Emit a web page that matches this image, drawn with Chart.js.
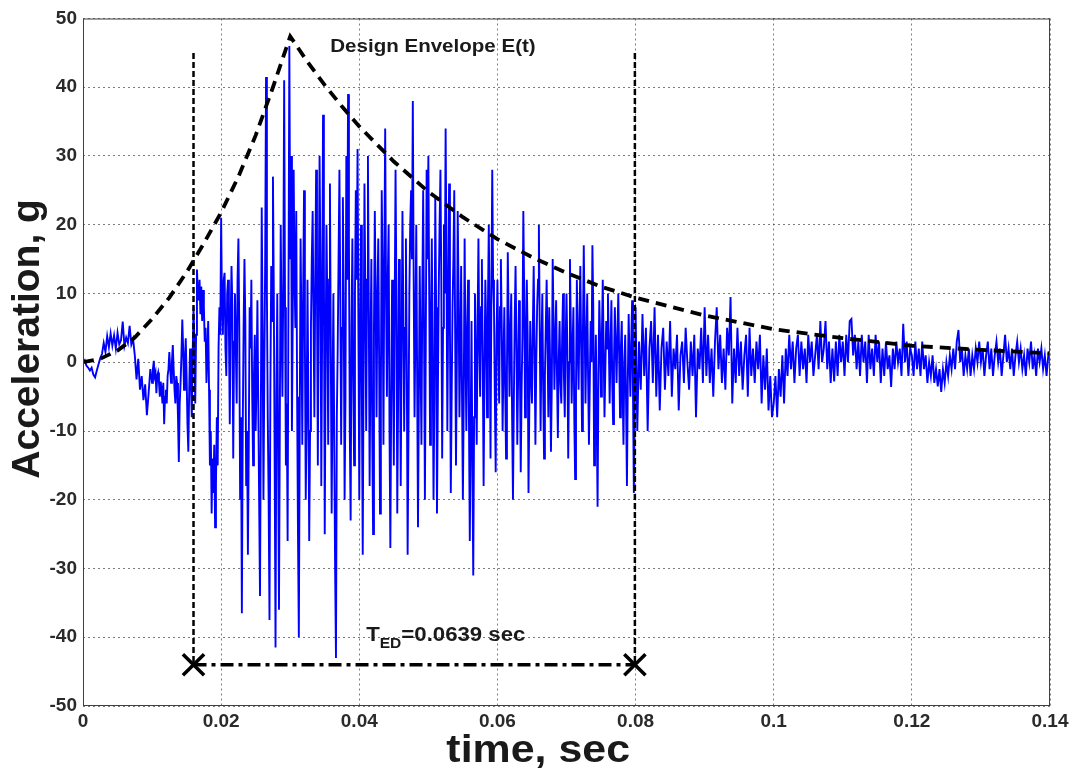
<!DOCTYPE html>
<html>
<head>
<meta charset="utf-8">
<title>Design Envelope E(t)</title>
<script src="https://cdn.jsdelivr.net/npm/chart.js@4.4.1/dist/chart.umd.min.js"></script>
<style>
  html, body { margin: 0; padding: 0; background: #fff; }
</style>
</head>
<body>
<canvas id="accChart" width="1082" height="775"></canvas>
<script>
// Acceleration record (g) in 10 ms windows.
// Quiet windows: one value every 0.25 ms, strong-motion windows: every 0.125 ms
const acc_000_010 = [0, 0.3, -0.5, -0.8, -1.2, -0.8, -1.8, -2.2, -1.2, -0.3,
  0.6, 1.2, 2.8, 1.5, 3.8, 2.2, 4.2, 2.4, 3.9, 2.0,
  4.3, 2.6, 3.2, 5.9, 2.4, 3.6, 2.8, 5.3, 2.6, 3.4,
  1.0, -2.5, 0.5, -4.0, -2.0, -5.5, -3.2, -7.7, -4.5, -1.0];
const acc_010_020 = [-3, -1, 0.2, -2, -1.5, -4.5, -2, -1.5, -3, -5,
  -2.8, -4, -6, -3, -9, -5, -4, -6, -2, -1,
  1.5, -1, -3, 0, 2.5, -1, -4, -6, -2, -3,
  -8, -14.5, -6, -3, 1, 6.2, 2, -4, 0, 3.5,
  -2, -9, -13, -4, 2, -3, -8, 1, 8, 3,
  -6, 4, 13.5, 10, 9, 12, 7, 11, 6, 10.5,
  8, 3, 5, -3, 1, 6, -4, -15, -10, -22,
  -14, -19, -12, -24, -18, -8, -15, 2, 8, 4];
const acc_020_030 = [21, 8, 4, 12, 13, 2, -2, 10, 12, 5,
  -9, 6, 14, 8, -14, 3, 10, 2, -6, 12,
  18, 5, -20, -8, -36.5, -10, 5, 15, 6, -18,
  -10, -28, -12, 8, 2, 12, -5, -15, -2, 4,
  -10, -3, 9, -6, -20, -34, -8, 22.5, 5, -20,
  -2, 15, 41.5, 10, -8, -20, -37.5, -5, 14, 6,
  27, 10, -15, -41.5, -5, 10, -12, -36, -8, 20,
  5, -5, 12, 41, 8, -15, -6, -26, 10, 46];
const acc_030_040 = [15, 30, -10, 8, 28, 12, 5, 22, -5, -25,
  -40, -10, 18, 5, -12, 10, 25, 3, -20, -8,
  12, -5, -26, -10, 5, 15, 22, 6, -8, 12,
  28, 10, -15, 8, 30, 14, -18, 5, 36, 15,
  -25, 0, 20, 8, -12, 12, 26, 2, -22, -5,
  10, -12, -30, -43, -8, 2, 15, 28, 10, -12,
  5, 24, 8, -20, -5, 30, 12, 39, 18, -10,
  -23, 5, 18, -2, -15, 10, 25, 12, 31, 5];
const acc_040_050 = [-20, 5, 20, -5, -28, 0, 26, 10, -10, 12,
  30, 8, -18, 2, 15, -10, -25, 5, 22, 8,
  -8, 10, 18, 0, -22, -5, 25, 12, -12, 15,
  34, 10, -5, 12, 20, -10, -27, -5, 12, 0,
  -15, 8, 28, 10, -22, -5, 15, 5, -18, 2,
  22, 8, -10, 5, 18, 0, -28, -10, 10, 20,
  25, 15, 38, 12, -8, 5, 20, -2, -24, -5,
  14, 0, -12, 10, 25, 5, -20, 2, 28, 15];
const acc_050_060 = [30, 10, -12, 5, 18, 0, -20, -5, 24, 8,
  -22, -5, 10, 20, 28, 12, -14, 5, 20, 10,
  34, 15, -10, 8, 26, 5, -19, -5, 8, 15,
  25, 5, -15, 0, 22, 10, -8, 2, 14, -5,
  -20, -5, 18, 2, -10, 5, 12, -8, -26, -10,
  6, -15, -31, -8, 10, 0, -12, 5, 18, 2,
  -5, 8, 15, 0, -18, -2, 12, 5, -8, 8,
  20, 5, -14, 10, 28, 12, 8, -5, -16, 4];
const acc_060_070 = [12, 2, -6, 8, 15, 5, -10, 0, 8, -4,
  -14, -2, 16, 6, -5, 4, 10, -8, -20, -6,
  6, 14, 3, -12, -2, 9, 0, -16, -4, 4,
  22, 10, -8, 2, 12, 4, -19, -6, 6, -2,
  -6, 5, 14, 2, -12, 0, 8, 12, 20, 5,
  -10, 2, 10, -4, -14, -2, 5, 12, 3, -8,
  8, 0, -13, -3, 15, 6, -4, 3, 9, -2,
  -11, 0, 6, -3, -6, 4, 10, -2, -8, 3];
const acc_070_080 = [10, 2, -14, 0, 15, 5, -6, 2, 8, -8,
  -17, -4, 12, 3, -4, 6, 14, 2, -10, 4,
  17, 6, -6, 3, 10, -2, -12, -3, 6, 0,
  17, 8, -15, -4, 4, -8, -21, -2, 9, 3,
  -5, 4, 12, 2, -8, -1, 6, 2, 10, 3,
  -6, 2, 9, -3, -9, 0, 8, 2, -3, 4,
  10, 1, -8, 2, 6, -4, -12, 0, 4, -6,
  -18, -3, 7, 0, -5, 3, 9, -4, -19, -6];
const acc_080_090 = [8, -10, 3, -4, 7, -2, 5, -10, 2, 6,
  -3, 8, -5, 4, -7, 2, 5, -4, 3, -2,
  6, -5, 2, -1, 4, -7, 1, 3, -3, 5,
  0, -4, 3, -2, 4, -8, 2, -1, 5, -3];
const acc_090_100 = [8, -2, 4, -3, 2, -5, 3, 8, -1, 4,
  -3, 2, -4, 5, 1, 9.5, -6, 2, -3, 5,
  -2, 3, -4, 1, 4, -5, 5, -2, 2, -3,
  3, -1, 4, -6, 1, -4, 2, -7, -2, -8];
const acc_100_110 = [-6, -2, -8, -1, -5, 1, -6, 2, -2, 4,
  -1, 3, -3, 2, 4, -2, 3, -1, 2, -3,
  4, 0, 3, -2, 1, 4, -1, 6, 0, 2,
  6, -1, 3, -3, 2, -2.8, 3, -2, 4, 0];
const acc_110_120 = [3, -2, 4, 0, 6, 6.3, 1, 4, -1, 3,
  -2, 4, 0, 3, -3, 4, -1, 2, -2, 4,
  0, 3, -3, 2, -2, 3, -1, 1, -3.6, 2,
  -1, 3, 0, 2, -2, 5.6, 0, 3, -2, 2];
const acc_120_130 = [1, -2, 3, -1, 2, -2, 3, -1, 1, -3,
  0, -2, 1, -3, -1, -3.5, -1, -4.3, -1, -3,
  0, -2, 1, -1, 2, -1, 3, 4.7, 0, 2,
  -2, 1, -1, 2, -2, 1, -1, 2, 0, 3];
const acc_130_140 = [0, 2, -2, 1, 3, -1, 2, -2, 1, 3,
  0, 2, -2, 1, 4, 0, 2, -1, 2, -2,
  1, 3, 0, 2, -1, 1, -2, 2, 0, 3,
  -1, 1, -2, 2, 0, 2, -1, 1, -2, 1, 0.5];

// window start (s), sample step (s), values
const accWindows = [
  [0.00, 0.00025, acc_000_010], [0.01, 0.000125, acc_010_020],
  [0.02, 0.000125, acc_020_030], [0.03, 0.000125, acc_030_040],
  [0.04, 0.000125, acc_040_050], [0.05, 0.000125, acc_050_060],
  [0.06, 0.000125, acc_060_070], [0.07, 0.000125, acc_070_080],
  [0.08, 0.00025, acc_080_090], [0.09, 0.00025, acc_090_100],
  [0.10, 0.00025, acc_100_110], [0.11, 0.00025, acc_110_120],
  [0.12, 0.00025, acc_120_130], [0.13, 0.00025, acc_130_140]
];

// Design envelope E(t)
const envTime = [0, 0.0025, 0.005, 0.0075, 0.01, 0.0125, 0.015, 0.0175, 0.02, 0.0225, 0.025, 0.0275, 0.03,
  0.0325, 0.035, 0.0375, 0.04, 0.045, 0.05, 0.055, 0.06, 0.065, 0.07, 0.075, 0.08, 0.09, 0.1, 0.11, 0.12, 0.13, 0.14];
const envAcc = [0, 0.5, 1.7, 3.6, 6.3, 9.4, 13.1, 17.3, 21.8, 27.0, 33.0, 40.0, 47.4,
  43.7, 40.3, 37.2, 34.3, 29.2, 24.8, 21.1, 17.9, 15.3, 13.0, 11.0, 9.4, 6.8, 4.8, 3.5, 2.4, 1.8, 1.3];

// T_ED markers
const tedStart = 0.016;
const tedEnd = 0.0799;
const tedLevel = -44;
const guideTop = 45;

const xTicks = [0, 0.02, 0.04, 0.06, 0.08, 0.1, 0.12, 0.14];
const yTicks = [-50, -40, -30, -20, -10, 0, 10, 20, 30, 40, 50];

const signalData = [];
accWindows.forEach(([t0, dt, vals]) => {
  vals.forEach((g, i) => signalData.push({ x: t0 + i * dt, y: g }));
});
const envData = envTime.map((t, i) => ({ x: t, y: envAcc[i] }));

const tickFont = { family: '"Liberation Sans", Arial, sans-serif', size: 19, weight: 'bold' };

// draws the frame, axis titles and the two text labels
const textPlugin = {
  id: 'textPlugin',
  afterDraw(chart) {
    const { ctx, chartArea: a, scales: { x, y } } = chart;
    ctx.save();
    ctx.strokeStyle = '#404040';
    ctx.lineWidth = 1;
    ctx.setLineDash([]);
    ctx.strokeRect(a.left + 0.5, a.top + 0.5, a.right - a.left - 1, a.bottom - a.top - 1);

    ctx.fillStyle = '#1a1a1a';
    const stretch = (txt, px, py, sx, font, align) => {
      ctx.save();
      ctx.translate(px, py);
      ctx.scale(sx, 1);
      ctx.font = font;
      ctx.textAlign = align;
      ctx.textBaseline = 'alphabetic';
      ctx.fillText(txt, 0, 0);
      const w = ctx.measureText(txt).width * sx;
      ctx.restore();
      return w;
    };
    const f = (s) => 'bold ' + s + 'px "Liberation Sans", Arial, sans-serif';

    // Design Envelope E(t)
    stretch('Design Envelope E(t)', x.getPixelForValue(0.0358), y.getPixelForValue(45.2), 1.11, f(18.5), 'left');

    // T_ED=0.0639 sec
    let px = x.getPixelForValue(0.041);
    const base = y.getPixelForValue(-40.6);
    px += stretch('T', px, base, 1.11, f(20), 'left');
    px += stretch('ED', px, base + 7, 1.11, f(14), 'left');
    stretch('=0.0639 sec', px, base, 1.11, f(20), 'left');

    // axis titles
    stretch('time, sec', x.getPixelForValue(0.0659), a.bottom + 56, 1.1, f(39), 'center');
    ctx.save();
    ctx.translate(a.left - 55, y.getPixelForValue(3.4));
    ctx.rotate(-Math.PI / 2);
    ctx.font = f(39);
    ctx.textAlign = 'center';
    ctx.textBaseline = 'middle';
    ctx.fillText('Acceleration, g', 0, 0);
    ctx.restore();
    ctx.restore();
  }
};

const ctx = document.getElementById('accChart').getContext('2d');
const accChart = new Chart(ctx, {
  type: 'line',
  data: {
    datasets: [
      {
        label: 'T_ED',
        data: [{ x: tedStart, y: tedLevel }, { x: tedEnd, y: tedLevel }],
        borderColor: '#000',
        borderWidth: 3.5,
        borderDash: [13, 5, 4, 5],
        pointStyle: 'crossRot',
        pointRadius: 15,
        pointBorderWidth: 3.5,
        pointBorderColor: '#000'
      },
      {
        label: 'start',
        data: [{ x: tedStart, y: guideTop }, { x: tedStart, y: tedLevel }],
        borderColor: '#000',
        borderWidth: 2.5,
        borderDash: [6, 3],
        pointRadius: 0
      },
      {
        label: 'end',
        data: [{ x: tedEnd, y: guideTop }, { x: tedEnd, y: tedLevel }],
        borderColor: '#000',
        borderWidth: 2.5,
        borderDash: [6, 3],
        pointRadius: 0
      },
      {
        label: 'Design Envelope E(t)',
        data: envData,
        borderColor: '#000',
        borderWidth: 3.8,
        borderDash: [11, 7],
        pointRadius: 0
      },
      {
        label: 'Acceleration',
        data: signalData,
        borderColor: 'rgb(0,0,255)',
        borderWidth: 1.9,
        pointRadius: 0
      }
    ]
  },
  options: {
    responsive: false,
    animation: false,
    parsing: false,
    layout: { padding: { top: 15, right: 32, left: 0, bottom: 0 } },
    plugins: { legend: { display: false }, tooltip: { enabled: false } },
    scales: {
      x: {
        type: 'linear',
        min: 0,
        max: 0.14,
        afterBuildTicks: s => { s.ticks = xTicks.map(v => ({ value: v })); },
        afterFit: s => { s.height = 69; },
        ticks: {
          callback: v => String(+v.toFixed(2)),
          font: tickFont,
          color: '#2a2a2a',
          padding: 4,
          maxRotation: 0,
          autoSkip: false
        },
        grid: { color: 'rgba(80,80,80,0.75)', lineWidth: 1, drawTicks: false },
        border: { display: false, dash: [2, 3] }
      },
      y: {
        type: 'linear',
        min: -50,
        max: 50,
        afterBuildTicks: s => { s.ticks = yTicks.map(v => ({ value: v })); },
        afterFit: s => { s.width = 83; },
        ticks: {
          font: tickFont,
          color: '#2a2a2a',
          padding: 6,
          autoSkip: false
        },
        grid: { color: 'rgba(80,80,80,0.75)', lineWidth: 1, drawTicks: false },
        border: { display: false, dash: [2, 3] }
      }
    }
  },
  plugins: [textPlugin]
});
</script>
</body>
</html>
